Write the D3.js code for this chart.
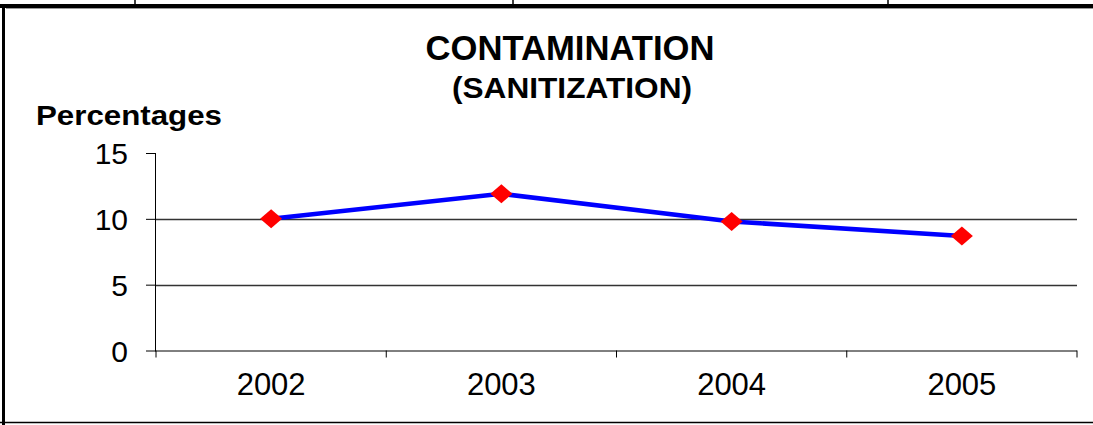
<!DOCTYPE html>
<html>
<head>
<meta charset="utf-8">
<script src="https://cdn.jsdelivr.net/npm/d3@7"></script>
<style>
  body { margin: 0; background: #fff; }
  text { font-family: "Liberation Sans", Arial, sans-serif; }
</style>
</head>
<body>
<div id="canvas"></div>
<script>
const years = ["2002", "2003", "2004", "2005"];
const contamination = [10, 11.9, 9.8, 8.7];
const yTicks = [0, 5, 10, 15];
const gridTicks = [5, 10];

const width = 1093;
const height = 425;
const margin = { top: 153, left: 156, bottom: 74, right: 16 };

const svg = d3.select("#canvas").append("svg")
  .attr("width", width)
  .attr("height", height);

// frame pieces (cropped table cell look)
svg.append("rect").attr("x", 0).attr("y", 4).attr("width", width).attr("height", 4).attr("fill", "#000");
svg.append("line").attr("x1", 6).attr("x2", width).attr("y1", 8.5).attr("y2", 8.5).attr("stroke", "#999");
svg.append("rect").attr("x", 2).attr("y", 4).attr("width", 3).attr("height", height - 4).attr("fill", "#000");
svg.append("line").attr("x1", 0).attr("x2", width).attr("y1", 422.5).attr("y2", 422.5).attr("stroke", "#000").attr("stroke-width", 1.5);
[135, 513, 888].forEach(px => {
  svg.append("line").attr("x1", px).attr("x2", px).attr("y1", 0).attr("y2", 5).attr("stroke", "#000").attr("stroke-width", 1.5);
});

const x = d3.scaleBand()
  .domain(years)
  .range([margin.left, width - margin.right])
  .paddingInner(0)
  .paddingOuter(0);

const y = d3.scaleLinear()
  .domain([0, 15])
  .range([height - margin.bottom - 0.5, margin.top]);

// grid lines
svg.append("g").selectAll("line")
  .data(gridTicks)
  .join("line")
  .attr("x1", margin.left)
  .attr("x2", width - margin.right)
  .attr("y1", d => Math.round(y(d)) + 0.5)
  .attr("y2", d => Math.round(y(d)) + 0.5)
  .attr("stroke", "#333")
  .attr("stroke-width", 1.3);

// y axis
const yAxis = svg.append("g")
  .attr("transform", `translate(${margin.left},0)`)
  .call(d3.axisLeft(y).tickValues(yTicks).tickSize(10).tickPadding(18));
yAxis.select(".domain").attr("stroke", "#000").attr("d", `M-0.5,${y(15)}V${y(0) + 1}`);
yAxis.selectAll(".tick line").attr("stroke", "#000");
yAxis.selectAll(".tick text")
  .attr("fill", "#000")
  .style("font-size", "30px")
  .attr("dy", "0.36em");

// x axis
const xAxis = svg.append("g")
  .attr("transform", `translate(0,${y(0)})`)
  .call(d3.axisBottom(x).tickSize(0).tickPadding(22));
xAxis.select(".domain").attr("stroke", "#000").attr("d", `M${margin.left},0.5H${width - margin.right}`);
xAxis.selectAll(".tick text")
  .attr("fill", "#000")
  .style("font-size", "31px");
xAxis.selectAll(".boundary")
  .data(years.map(d => x(d)).concat([x.range()[1]]))
  .join("line")
  .attr("class", "boundary")
  .attr("x1", d => d)
  .attr("x2", d => d)
  .attr("y1", 0)
  .attr("y2", 7)
  .attr("stroke", "#000");

// line
const line = d3.line()
  .x((d, i) => x(years[i]) + x.bandwidth() / 2)
  .y(d => y(d));

svg.append("path")
  .datum(contamination)
  .attr("d", line)
  .attr("fill", "none")
  .attr("stroke", "#0000ff")
  .attr("stroke-width", 4.5);

// diamond markers
svg.append("g").selectAll("path")
  .data(contamination)
  .join("path")
  .attr("transform", (d, i) => `translate(${x(years[i]) + x.bandwidth() / 2},${y(d)})`)
  .attr("d", "M0,-9.5L11,0L0,9.5L-11,0Z")
  .attr("fill", "#ff0000");

// titles
svg.append("text")
  .attr("x", 570).attr("y", 60)
  .attr("text-anchor", "middle")
  .attr("textLength", 289).attr("lengthAdjust", "spacingAndGlyphs")
  .style("font-size", "35px").style("font-weight", "bold")
  .text("CONTAMINATION");

svg.append("text")
  .attr("x", 572).attr("y", 98)
  .attr("text-anchor", "middle")
  .attr("textLength", 240).attr("lengthAdjust", "spacingAndGlyphs")
  .style("font-size", "30px").style("font-weight", "bold")
  .text("(SANITIZATION)");

svg.append("text")
  .attr("x", 36).attr("y", 125)
  .attr("textLength", 186).attr("lengthAdjust", "spacingAndGlyphs")
  .style("font-size", "28px").style("font-weight", "bold")
  .text("Percentages");
</script>
</body>
</html>
